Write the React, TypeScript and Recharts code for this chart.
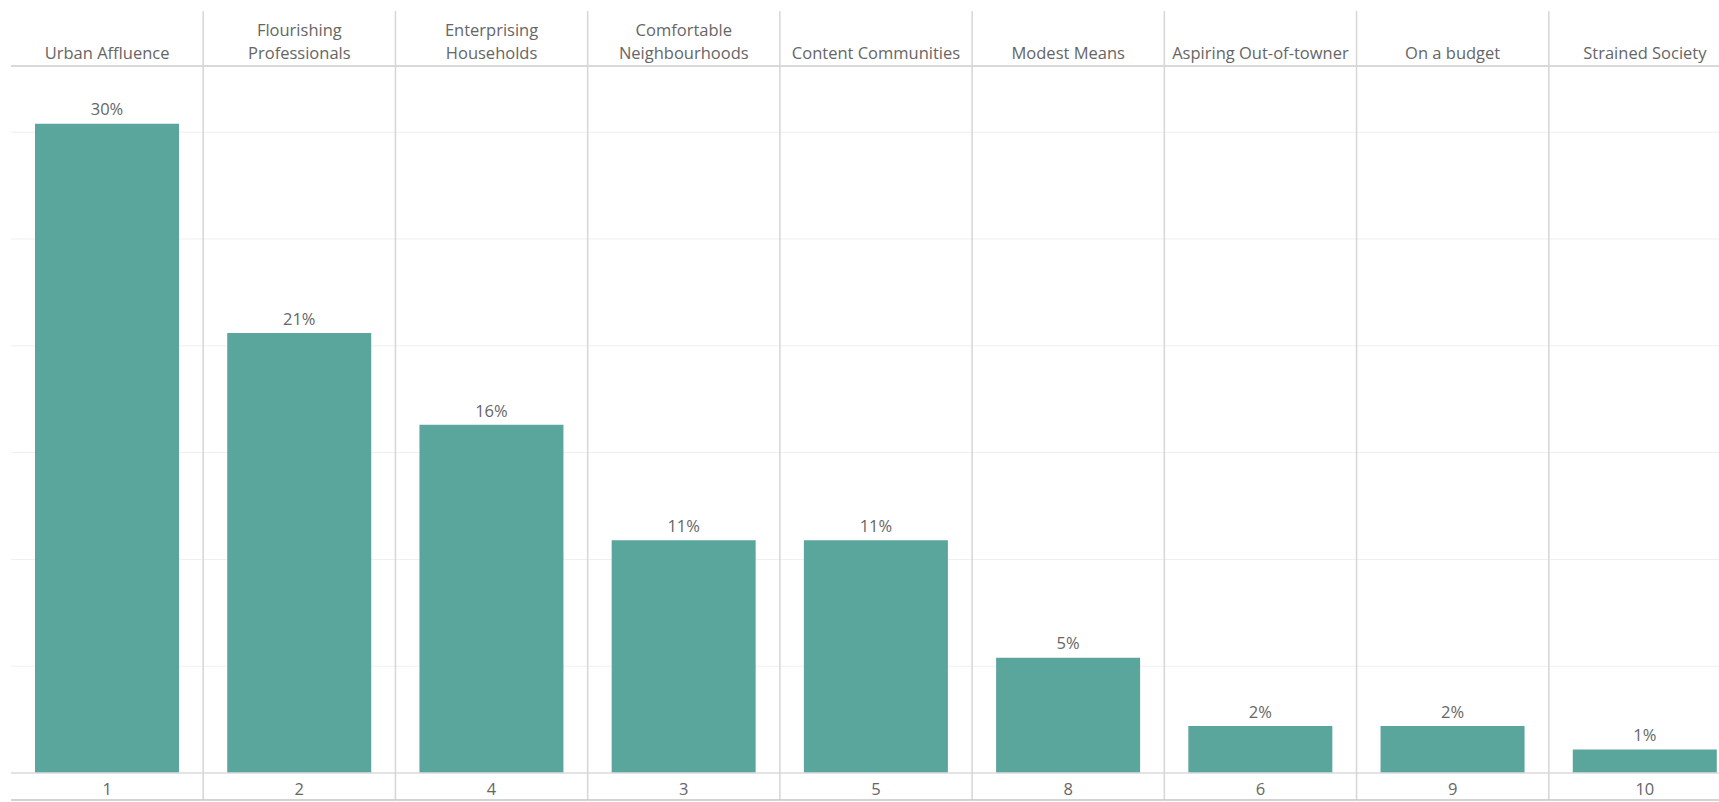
import React from 'react';
import { BarChart, Bar, XAxis, YAxis, CartesianGrid, LabelList } from 'recharts';

const segments = [
  'Urban Affluence',
  'Flourishing Professionals',
  'Enterprising Households',
  'Comfortable Neighbourhoods',
  'Content Communities',
  'Modest Means',
  'Aspiring Out-of-towner',
  'On a budget',
  'Strained Society',
];
const headerLines = [
  ['Urban Affluence'],
  ['Flourishing', 'Professionals'],
  ['Enterprising', 'Households'],
  ['Comfortable', 'Neighbourhoods'],
  ['Content Communities'],
  ['Modest Means'],
  ['Aspiring Out-of-towner'],
  ['On a budget'],
  ['Strained Society'],
];
const ranks = ['1', '2', '4', '3', '5', '8', '6', '9', '10'];
const shares = [30.4, 20.6, 16.3, 10.9, 10.9, 5.4, 2.2, 2.2, 1.1];
const gridTicks = [0, 5, 10, 15, 20, 25, 30];

const data = segments.map((s, i) => ({ segment: s, rank: ranks[i], share: shares[i] }));

const W = 1741;
const H = 802;
const LEFT = 11;
const HEADER_H = 66;
const FOOTER_H = 29;
const SEP_TOP = 11;
const BOTTOM_LINE = 800;
const BAND = (W - LEFT) / segments.length;
const FONT = '"Open Sans", sans-serif';
const FS = 16.5;
const TEXT = '#666666';
const SEP = '#d6d6d6';

const TopTick = (props: any) => {
  const { x, payload } = props;
  const idx = segments.indexOf(payload.value);
  const half = payload.offset ?? BAND / 2;
  const lines = headerLines[idx] || [payload.value];
  const left = x - half;
  const ys = lines.length === 2 ? [30, 53] : [53];
  return (
    <g>
      {idx > 0 && (
        <line x1={left} x2={left} y1={SEP_TOP} y2={BOTTOM_LINE} stroke={SEP} strokeWidth={1.5} />
      )}
      {lines.map((l, i) => (
        <text
          key={i}
          x={x}
          y={ys[i]}
          dy="0.35em"
          textAnchor="middle"
          fill={TEXT}
          fontSize={FS}
          fontFamily={FONT}
        >
          {l}
        </text>
      ))}
    </g>
  );
};

const BottomTick = (props: any) => {
  const { x, payload } = props;
  const half = payload.offset ?? BAND / 2;
  return (
    <g>
      <line x1={x - half} x2={x + half} y1={BOTTOM_LINE} y2={BOTTOM_LINE} stroke="#c4c4c4" strokeWidth={1.5} />
      <text x={x} y={789.5} dy="0.35em" textAnchor="middle" fill={TEXT} fontSize={FS} fontFamily={FONT}>
        {payload.value}
      </text>
    </g>
  );
};

const ValueLabel = (props: any) => {
  const { x, y, width, value } = props;
  return (
    <text
      x={x + width / 2}
      y={y - 14}
      dy="0.35em"
      textAnchor="middle"
      fill={TEXT}
      fontSize={FS}
      fontFamily={FONT}
    >
      {`${Math.round(value)}%`}
    </text>
  );
};

export default function App() {
  return (
    <div
      style={{
        position: 'fixed',
        left: 0,
        top: 0,
        width: 1719,
        height: 802,
        overflow: 'hidden',
        background: '#ffffff',
      }}
    >
      <BarChart
        width={W}
        height={H}
        data={data}
        margin={{ top: 0, right: 0, bottom: 0, left: LEFT }}
        barSize={144}
      >
        <CartesianGrid vertical={false} stroke="#efefef" strokeWidth={1} />
        <XAxis
          xAxisId="top"
          dataKey="segment"
          orientation="top"
          height={HEADER_H}
          tickLine={false}
          axisLine={{ stroke: '#d9d9d9', strokeWidth: 2 }}
          tick={<TopTick />}
          interval={0}
        />
        <XAxis
          xAxisId="bottom"
          dataKey="rank"
          orientation="bottom"
          height={FOOTER_H}
          tickLine={false}
          axisLine={{ stroke: '#dcdcdc', strokeWidth: 1.5 }}
          tick={<BottomTick />}
          interval={0}
        />
        <YAxis hide domain={[0, 33.1]} ticks={gridTicks} />
        <Bar dataKey="share" xAxisId="top" fill="#5ba69c" isAnimationActive={false}>
          <LabelList dataKey="share" content={<ValueLabel />} />
        </Bar>
      </BarChart>
    </div>
  );
}
